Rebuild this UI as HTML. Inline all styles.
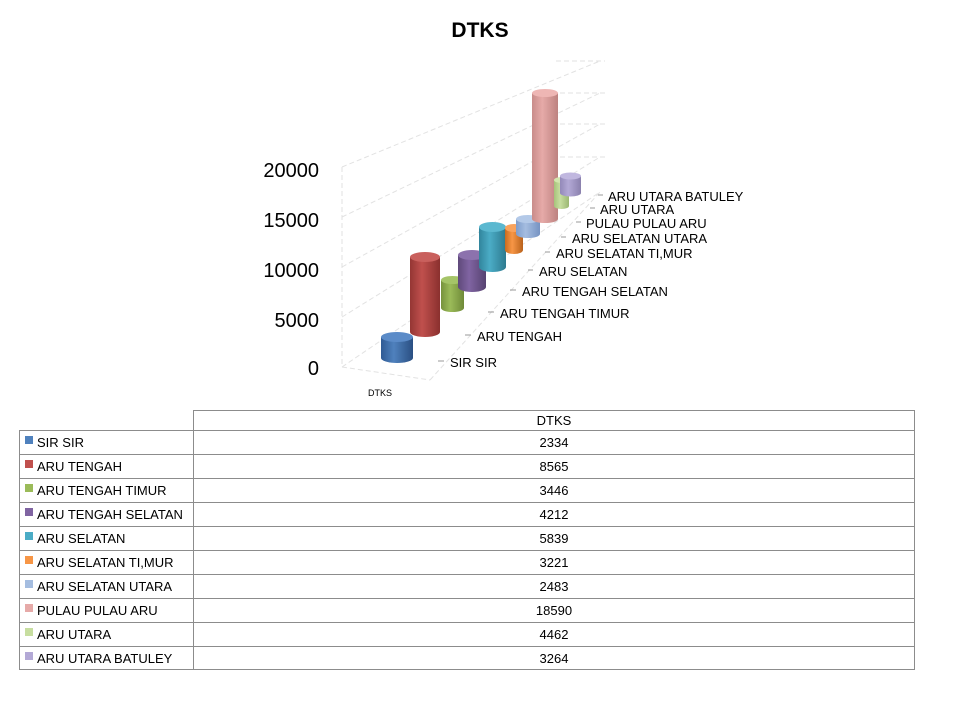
<!DOCTYPE html>
<html><head><style>
body{margin:0;background:#fff;font-family:"Liberation Sans",sans-serif;}
svg{display:block}
</style></head><body>
<svg width="960" height="720" xmlns="http://www.w3.org/2000/svg" font-family="Liberation Sans, sans-serif">
<defs>
<linearGradient id="gb" x1="0" x2="1"><stop offset="0" stop-color="#2f5a94"/><stop offset="0.4" stop-color="#4f81bd"/><stop offset="1" stop-color="#2a4f82"/></linearGradient>
<linearGradient id="gr" x1="0" x2="1"><stop offset="0" stop-color="#943634"/><stop offset="0.4" stop-color="#c0504d"/><stop offset="1" stop-color="#8a302e"/></linearGradient>
<linearGradient id="gg" x1="0" x2="1"><stop offset="0" stop-color="#76923c"/><stop offset="0.4" stop-color="#9bbb59"/><stop offset="1" stop-color="#6f8a38"/></linearGradient>
<linearGradient id="gp" x1="0" x2="1"><stop offset="0" stop-color="#5f497a"/><stop offset="0.4" stop-color="#8064a2"/><stop offset="1" stop-color="#564270"/></linearGradient>
<linearGradient id="gt" x1="0" x2="1"><stop offset="0" stop-color="#31859c"/><stop offset="0.4" stop-color="#4bacc6"/><stop offset="1" stop-color="#2d7a8f"/></linearGradient>
<linearGradient id="go" x1="0" x2="1"><stop offset="0" stop-color="#c96b1e"/><stop offset="0.4" stop-color="#f79646"/><stop offset="1" stop-color="#b9621b"/></linearGradient>
<linearGradient id="glb" x1="0" x2="1"><stop offset="0" stop-color="#7e9ccb"/><stop offset="0.4" stop-color="#a5bde0"/><stop offset="1" stop-color="#7693c2"/></linearGradient>
<linearGradient id="gpk" x1="0" x2="1"><stop offset="0" stop-color="#c98c8a"/><stop offset="0.4" stop-color="#e6aaa8"/><stop offset="1" stop-color="#bd8280"/></linearGradient>
<linearGradient id="glg" x1="0" x2="1"><stop offset="0" stop-color="#a6c37a"/><stop offset="0.4" stop-color="#c7dea0"/><stop offset="1" stop-color="#9bb772"/></linearGradient>
<linearGradient id="gl" x1="0" x2="1"><stop offset="0" stop-color="#9389b8"/><stop offset="0.4" stop-color="#b3a9d6"/><stop offset="1" stop-color="#8a80ad"/></linearGradient>
</defs>
<text x="480" y="37" text-anchor="middle" font-size="21" font-weight="bold">DTKS</text>
<g stroke="#e2e2e2" stroke-width="1" stroke-dasharray="5,3" fill="none">
<line x1="342" y1="367" x2="600" y2="192"/>
<line x1="342" y1="317" x2="600" y2="157"/>
<line x1="342" y1="267" x2="600" y2="124"/>
<line x1="342" y1="217" x2="600" y2="93"/>
<line x1="342" y1="167" x2="600" y2="61"/>
<line x1="342" y1="167" x2="342" y2="367"/>
<line x1="342" y1="367" x2="430" y2="380"/>
<line x1="556" y1="61" x2="605" y2="61"/>
<line x1="560" y1="93" x2="605" y2="93"/>
<line x1="560" y1="124" x2="605" y2="124"/>
<line x1="560" y1="157" x2="605" y2="157"/>
<line x1="430" y1="380" x2="600" y2="192"/>
</g>
<g font-size="20" text-anchor="end">
<text x="319" y="177">20000</text><text x="319" y="227">15000</text><text x="319" y="277">10000</text><text x="319" y="327">5000</text><text x="319" y="375">0</text>
</g>
<text x="380" y="396" font-size="9" text-anchor="middle">DTKS</text>
<g stroke="#999" stroke-width="1">
<line x1="438" y1="361" x2="444" y2="361"/><line x1="465" y1="335" x2="471" y2="335"/>
<line x1="488" y1="312" x2="494" y2="312"/><line x1="510" y1="290" x2="516" y2="290"/>
<line x1="528" y1="270" x2="533" y2="270"/><line x1="545" y1="252" x2="550" y2="252"/>
<line x1="561" y1="237" x2="566" y2="237"/><line x1="576" y1="222" x2="581" y2="222"/>
<line x1="590" y1="208" x2="595" y2="208"/><line x1="598" y1="195" x2="603" y2="195"/>
</g>
<g font-size="13">
<text x="450" y="367">SIR SIR</text>
<text x="477" y="341">ARU TENGAH</text>
<text x="500" y="318">ARU TENGAH TIMUR</text>
<text x="522" y="296">ARU TENGAH SELATAN</text>
<text x="539" y="276">ARU SELATAN</text>
<text x="556" y="258">ARU SELATAN TI,MUR</text>
<text x="572" y="243">ARU SELATAN UTARA</text>
<text x="586" y="228">PULAU PULAU ARU</text>
<text x="600" y="214">ARU UTARA</text>
<text x="608" y="201">ARU UTARA BATULEY</text>
</g>
<g>
<path d="M381 337 V358 A16 5 0 0 0 413 358 V337 Z" fill="url(#gb)"/><ellipse cx="397" cy="337" rx="16" ry="5" fill="#5b8bc8"/>
<path d="M410 257 V332 A15 5 0 0 0 440 332 V257 Z" fill="url(#gr)"/><ellipse cx="425" cy="257" rx="15" ry="5" fill="#c9605d"/>
<path d="M441 280 V308 A11.5 4 0 0 0 464 308 V280 Z" fill="url(#gg)"/><ellipse cx="452.5" cy="280" rx="11.5" ry="4" fill="#a5c468"/>
<path d="M458 255 V287 A14 5 0 0 0 486 287 V255 Z" fill="url(#gp)"/><ellipse cx="472" cy="255" rx="14" ry="5" fill="#8c72ad"/>
<path d="M479 227 V267 A13.5 5 0 0 0 506 267 V227 Z" fill="url(#gt)"/><ellipse cx="492.5" cy="227" rx="13.5" ry="5" fill="#5bb8d0"/>
<path d="M505 228 V250 A9 4 0 0 0 523 250 V228 Z" fill="url(#go)"/><ellipse cx="514" cy="228" rx="9" ry="4" fill="#f9a35d"/>
<path d="M516 219 V234 A12 4 0 0 0 540 234 V219 Z" fill="url(#glb)"/><ellipse cx="528" cy="219" rx="12" ry="4" fill="#b3c9e8"/>
<path d="M532 93 V219 A13 4 0 0 0 558 219 V93 Z" fill="url(#gpk)"/><ellipse cx="545" cy="93" rx="13" ry="4" fill="#eeb6b4"/>
<path d="M554 180 V206 A7.5 3 0 0 0 569 206 V180 Z" fill="url(#glg)"/><ellipse cx="561.5" cy="180" rx="7.5" ry="3" fill="#d2e6ae"/>
<path d="M560 176 V193 A10.5 3.5 0 0 0 581 193 V176 Z" fill="url(#gl)"/><ellipse cx="570.5" cy="176" rx="10.5" ry="3.5" fill="#c0b7df"/>
</g>
<g stroke="#8c8c8c" stroke-width="1" fill="none">
<rect x="193.5" y="410.5" width="721" height="259"/>
<rect x="19.5" y="430.5" width="174" height="239"/>
<line x1="19" y1="454.5" x2="915" y2="454.5"/><line x1="19" y1="478.5" x2="915" y2="478.5"/>
<line x1="19" y1="502.5" x2="915" y2="502.5"/><line x1="19" y1="526.5" x2="915" y2="526.5"/>
<line x1="19" y1="550.5" x2="915" y2="550.5"/><line x1="19" y1="574.5" x2="915" y2="574.5"/>
<line x1="19" y1="598.5" x2="915" y2="598.5"/><line x1="19" y1="622.5" x2="915" y2="622.5"/>
<line x1="19" y1="646.5" x2="915" y2="646.5"/><line x1="193" y1="430.5" x2="915" y2="430.5"/>
</g>
<g font-size="13">
<text x="554" y="425" text-anchor="middle">DTKS</text>
<rect x="25" y="436" width="8" height="8" fill="#4f81bd"/><text x="37" y="447">SIR SIR</text>
<rect x="25" y="460" width="8" height="8" fill="#c0504d"/><text x="37" y="471">ARU TENGAH</text>
<rect x="25" y="484" width="8" height="8" fill="#9bbb59"/><text x="37" y="495">ARU TENGAH TIMUR</text>
<rect x="25" y="508" width="8" height="8" fill="#8064a2"/><text x="37" y="519">ARU TENGAH SELATAN</text>
<rect x="25" y="532" width="8" height="8" fill="#4bacc6"/><text x="37" y="543">ARU SELATAN</text>
<rect x="25" y="556" width="8" height="8" fill="#f79646"/><text x="37" y="567">ARU SELATAN TI,MUR</text>
<rect x="25" y="580" width="8" height="8" fill="#a5bde0"/><text x="37" y="591">ARU SELATAN UTARA</text>
<rect x="25" y="604" width="8" height="8" fill="#e6aaa8"/><text x="37" y="615">PULAU PULAU ARU</text>
<rect x="25" y="628" width="8" height="8" fill="#c7dea0"/><text x="37" y="639">ARU UTARA</text>
<rect x="25" y="652" width="8" height="8" fill="#b3a9d6"/><text x="37" y="663">ARU UTARA BATULEY</text>
<g text-anchor="middle">
<text x="554" y="447">2334</text><text x="554" y="471">8565</text><text x="554" y="495">3446</text>
<text x="554" y="519">4212</text><text x="554" y="543">5839</text><text x="554" y="567">3221</text>
<text x="554" y="591">2483</text><text x="554" y="615">18590</text><text x="554" y="639">4462</text>
<text x="554" y="663">3264</text>
</g>
</g>
</svg>
</body></html>
